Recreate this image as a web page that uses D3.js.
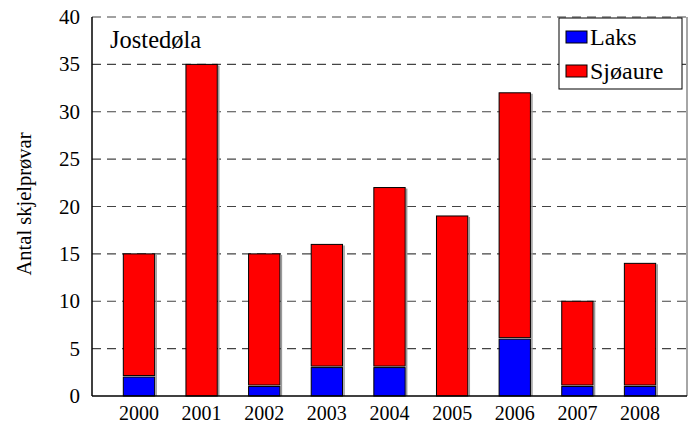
<!DOCTYPE html>
<html lang="no">
<head>
  <meta charset="UTF-8">
  <script src="https://d3js.org/d3.v7.min.js"></script>
  <title>Jostedøla</title>
  <style>
    body { margin: 0; background: #fff; }
    svg text { font-family: "Liberation Serif", "Times New Roman", serif !important; }
  </style>
</head>
<body>
  <div class="chart"></div>
  <script>
    const years = ['2000', '2001', '2002', '2003', '2004', '2005', '2006', '2007', '2008'];
    const laks = [2, 0, 1, 3, 3, 0, 6, 1, 1];
    const sjoaure = [13, 35, 14, 13, 19, 19, 26, 9, 13];
    const yTicks = [0, 5, 10, 15, 20, 25, 30, 35, 40];

    const width = 696, height = 425;
    const plotL = 92, plotR = 687, plotT = 17, plotB = 396;
    const serif = "'Liberation Serif', 'Times New Roman', serif";

    const svg = d3.select('.chart').append('svg')
      .attr('width', width).attr('height', height)
      .attr('font-family', serif);

    const x = d3.scaleBand().domain(years).range([plotL, plotR]).paddingInner(0.5).paddingOuter(0.5);
    const y = d3.scaleLinear().domain([0, 40]).range([plotB, plotT]);

    // grid lines
    svg.selectAll('.grid').data(yTicks.filter(d => d > 0)).enter().append('line')
      .attr('x1', plotL).attr('x2', plotR)
      .attr('y1', d => y(d)).attr('y2', d => y(d))
      .attr('stroke', '#444').attr('stroke-width', 1.2)
      .attr('stroke-dasharray', '9,6');

    // right frame edge
    svg.append('line').attr('x1', plotR).attr('x2', plotR).attr('y1', plotT).attr('y2', plotB)
      .attr('stroke', '#888').attr('stroke-width', 1.5);

    const rows = years.map((yr, i) => ({ year: yr, laks: laks[i], sjo: sjoaure[i] }));
    const g = svg.selectAll('.bar').data(rows).enter().append('g');

    // shadow on right side
    g.append('line')
      .attr('x1', d => x(d.year) + x.bandwidth() + 1.5)
      .attr('x2', d => x(d.year) + x.bandwidth() + 1.5)
      .attr('y1', d => y(d.laks + d.sjo) + 1)
      .attr('y2', plotB)
      .attr('stroke', '#999').attr('stroke-width', 1.5);

    g.filter(d => d.laks > 0).append('rect')
      .attr('x', d => x(d.year))
      .attr('y', d => y(d.laks))
      .attr('width', x.bandwidth())
      .attr('height', d => y(0) - y(d.laks))
      .attr('fill', '#0000ff')
      .attr('stroke', '#000').attr('stroke-width', 1);

    g.append('rect')
      .attr('x', d => x(d.year))
      .attr('y', d => y(d.laks + d.sjo))
      .attr('width', x.bandwidth())
      .attr('height', d => y(d.laks) - y(d.laks + d.sjo) - (d.laks > 0 ? 1.5 : 0))
      .attr('fill', '#ff0000')
      .attr('stroke', '#000').attr('stroke-width', 1);

    // axes frame
    svg.append('line').attr('x1', plotL).attr('x2', plotL).attr('y1', plotT).attr('y2', plotB)
      .attr('stroke', '#000').attr('stroke-width', 1.5);
    svg.append('line').attr('x1', plotL).attr('x2', plotR).attr('y1', plotB).attr('y2', plotB)
      .attr('stroke', '#000').attr('stroke-width', 1.5);

    // y tick labels
    svg.selectAll('.ylab').data(yTicks).enter().append('text')
      .attr('x', 80).attr('y', d => y(d) + 7)
      .attr('text-anchor', 'end').attr('font-size', 21)
      .text(d => d);

    // x tick labels
    svg.selectAll('.xlab').data(years).enter().append('text')
      .attr('x', d => x(d) + x.bandwidth() / 2).attr('y', 420)
      .attr('text-anchor', 'middle').attr('font-size', 20)
      .text(d => d);

    svg.append('text')
      .attr('transform', 'translate(31,204) rotate(-90)')
      .attr('text-anchor', 'middle').attr('font-size', 20.5)
      .text('Antal skjelprøvar');

    svg.append('text').attr('x', 110).attr('y', 48).attr('font-size', 24.5).text('Jostedøla');

    // legend
    const lg = svg.append('g');
    lg.append('rect').attr('x', 559).attr('y', 18).attr('width', 123).attr('height', 71)
      .attr('fill', '#fff').attr('stroke', '#000').attr('stroke-width', 1);
    const legendItems = [{ name: 'Laks', color: '#0000ff' }, { name: 'Sjøaure', color: '#ff0000' }];
    legendItems.forEach((d, i) => {
      lg.append('rect').attr('x', 566).attr('y', 31 + i * 34).attr('width', 21).attr('height', 12)
        .attr('fill', d.color).attr('stroke', '#000').attr('stroke-width', 1);
      lg.append('text').attr('x', 590).attr('y', 45 + i * 34).attr('font-size', 24).text(d.name);
    });
  </script>
</body>
</html>
